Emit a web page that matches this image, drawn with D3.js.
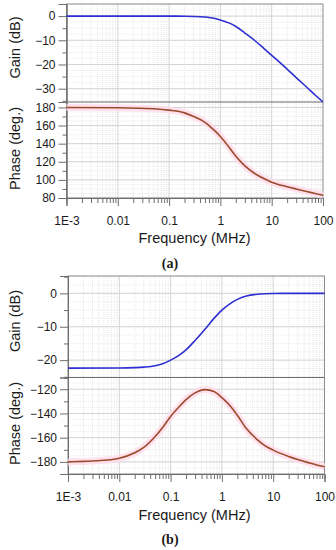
<!DOCTYPE html>
<html><head><meta charset="utf-8">
<script src="https://cdn.jsdelivr.net/npm/d3@7"></script>
<style>body{margin:0;background:#fff}svg{display:block}</style>
</head><body>
<svg id="c" width="336" height="550"></svg>
<script>
// ---------- data ----------
const xTickLabels = ["1E-3","0.01","0.1","1","10","100"];
const xTickValues = [0.001,0.01,0.1,1,10,100];

const freqA  = [0.001,0.01,0.05,0.1,0.2,0.3,0.5,0.7,1,1.5,2,3,5,7,10,20,30,50,70,100];
const gainA  = [0,0,-0.01,-0.02,-0.06,-0.14,-0.4,-0.8,-1.6,-2.9,-4.3,-7.0,-10.6,-13.3,-16.2,-21.9,-25.4,-29.7,-32.6,-35.5];
const phaseA = [180,179.7,178.5,177,174,170,163.5,156.5,148,135.5,126,115.5,106,101.5,97.5,92.5,90,87,85,83];

const freqGB = [0.001,0.01,0.02,0.03,0.05,0.07,0.1,0.15,0.2,0.3,0.5,0.7,1,1.5,2,3,5,7,10,20,100];
const gainB  = [-22.4,-22.35,-22.25,-22.1,-21.7,-21.1,-20.0,-18.4,-16.9,-14.1,-10.2,-7.5,-5.0,-2.9,-1.8,-0.8,-0.25,-0.1,-0.03,0,0];
const freqPB = [0.001,0.002,0.005,0.01,0.02,0.03,0.05,0.07,0.1,0.15,0.2,0.3,0.47,0.7,1,1.5,2,3,5,7,10,20,30,50,70,100];
const phaseB = [-180,-179.6,-178.7,-177,-172.5,-168,-159,-151.5,-142.5,-134,-128.5,-123,-120.3,-121.8,-127,-134.5,-141.5,-152.5,-162,-166.8,-170.3,-175.5,-178,-180.8,-182.5,-184];

const gainTicksA  = [0,-10,-20,-30];
const phaseTicksA = [180,160,140,120,100,80];
const gainTicksB  = [0,-10,-20];
const phaseTicksB = [-120,-140,-160,-180];

const captions = ["(a)","(b)"];
const gainTitle = "Gain (dB)", phaseTitle = "Phase (deg.)", freqTitle = "Frequency (MHz)";

// ---------- drawing ----------
const svg = d3.select("#c");
const SANS = "'Liberation Sans', Arial, sans-serif";
const BLUE = "#2e2ed2", RED = "#9c4a2c";

function drawChart(cfg) {
  const g = svg.append("g");
  const x = d3.scaleLog().domain([0.001,100]).range([cfg.x0, cfg.x1]);
  const yG = d3.scaleLinear().domain(cfg.gDom).range([cfg.yTop, cfg.yMid]);
  const yP = d3.scaleLinear().domain(cfg.pDom).range([cfg.yMid, cfg.yBot]);
  const allX = x.ticks();
  const minorX = allX.filter(v => !xTickValues.some(t => Math.abs(t - v) < 1e-9));

  function grid(y, majors, step) {
    const [a, b] = y.domain();
    const lo = Math.min(a, b), hi = Math.max(a, b);
    const fine = [];
    for (let v = Math.ceil(lo / (step/4)) * (step/4); v <= hi; v += step/4) fine.push(+v.toFixed(4));
    g.append("g").selectAll("line").data(fine).join("line")
      .attr("x1", cfg.x0).attr("x2", cfg.x1).attr("y1", d => y(d)).attr("y2", d => y(d))
      .attr("stroke", "#ebebeb").attr("stroke-width", 1).attr("stroke-dasharray","1,1");
    g.append("g").selectAll("line").data(minorX).join("line")
      .attr("x1", d => x(d)).attr("x2", d => x(d)).attr("y1", y.range()[0]).attr("y2", y.range()[1])
      .attr("stroke", "#e6e6e6").attr("stroke-width", 1).attr("stroke-dasharray","1,1");
    g.append("g").selectAll("line").data(majors).join("line")
      .attr("x1", cfg.x0).attr("x2", cfg.x1).attr("y1", d => y(d)).attr("y2", d => y(d))
      .attr("stroke", "#d4d4d4").attr("stroke-width", 1);
    g.append("g").selectAll("line").data(xTickValues.slice(1,-1)).join("line")
      .attr("x1", d => x(d)).attr("x2", d => x(d)).attr("y1", y.range()[0]).attr("y2", y.range()[1])
      .attr("stroke", "#d4d4d4").attr("stroke-width", 1);
  }
  grid(yG, cfg.gTicks, 10);
  grid(yP, cfg.pTicks, 20);

  // border
  g.append("rect").attr("x", cfg.x0).attr("y", cfg.yTop)
    .attr("width", cfg.x1 - cfg.x0).attr("height", cfg.yBot - cfg.yTop)
    .attr("fill", "none").attr("stroke", "#8a8a8a").attr("stroke-width", 1);
  g.append("line").attr("x1", cfg.x0).attr("x2", cfg.x1).attr("y1", cfg.yMid).attr("y2", cfg.yMid)
    .attr("stroke", "#6e6e6e").attr("stroke-width", 1.2);

  // y axes
  function yAxis(y, majors, step) {
    const [a, b] = y.domain();
    const lo = Math.min(a, b), hi = Math.max(a, b);
    const minors = [];
    for (let v = Math.ceil(lo / (step/2)) * (step/2); v <= hi; v += step/2)
      if (!majors.some(m => Math.abs(m - v) < 1e-6)) minors.push(v);
    const ax = g.append("g").attr("transform", `translate(${cfg.x0},0)`);
    ax.call(d3.axisLeft(y).tickValues(minors).tickSize(4).tickFormat(""));
    const ax2 = g.append("g").attr("transform", `translate(${cfg.x0},0)`);
    ax2.call(d3.axisLeft(y).tickValues(majors).tickSize(8).tickPadding(3).tickFormat(d3.format("d")));
    [ax, ax2].forEach(s => {
      s.select(".domain").attr("stroke", "#6e6e6e");
      s.selectAll(".tick line").attr("stroke", "#6e6e6e");
      s.selectAll("text").attr("font-family", SANS).attr("font-size", 12).attr("fill", "#1a1a1a");
    });
  }
  yAxis(yG, cfg.gTicks, 10);
  yAxis(yP, cfg.pTicks, 20);

  // x axis
  const axm = g.append("g").attr("transform", `translate(0,${cfg.yBot})`)
    .call(d3.axisBottom(x).tickValues(minorX).tickSize(5).tickFormat(""));
  const axM = g.append("g").attr("transform", `translate(0,${cfg.yBot})`)
    .call(d3.axisBottom(x).tickValues(xTickValues).tickSize(8).tickPadding(10)
      .tickFormat((d, i) => xTickLabels[i]));
  [axm, axM].forEach(s => {
    s.select(".domain").attr("stroke", "#6e6e6e");
    s.selectAll(".tick line").attr("stroke", "#6e6e6e");
    s.selectAll("text").attr("font-family", SANS).attr("font-size", 12).attr("fill", "#1a1a1a");
  });

  // curves
  const lineG = d3.line().x(d => x(d[0])).y(d => yG(d[1])).curve(d3.curveMonotoneX);
  const lineP = d3.line().x(d => x(d[0])).y(d => yP(d[1])).curve(d3.curveMonotoneX);
  const gd = cfg.gf.map((f, i) => [f, cfg.gv[i]]);
  const pd = cfg.pf.map((f, i) => [f, cfg.pv[i]]);
  g.append("path").datum(pd).attr("d", lineP).attr("fill", "none")
    .attr("stroke", "#ffdbe9").attr("stroke-width", 7).attr("opacity", 0.8);
  g.append("path").datum(gd).attr("d", lineG).attr("fill", "none")
    .attr("stroke", BLUE).attr("stroke-width", 1.6);
  g.append("path").datum(pd).attr("d", lineP).attr("fill", "none")
    .attr("stroke", RED).attr("stroke-width", 1.6);

  // titles
  g.append("text").attr("transform", `translate(20,${cfg.gTitleY}) rotate(-90)`)
    .attr("text-anchor", "middle").attr("font-family", SANS).attr("font-size", 14.5)
    .attr("fill", "#1a1a1a").text(gainTitle);
  g.append("text").attr("transform", `translate(20,${cfg.pTitleY}) rotate(-90)`)
    .attr("text-anchor", "middle").attr("font-family", SANS).attr("font-size", 14.5)
    .attr("fill", "#1a1a1a").text(phaseTitle);
  g.append("text").attr("x", 194.5).attr("y", cfg.fTitleY).attr("text-anchor", "middle")
    .attr("font-family", SANS).attr("font-size", 14.5).attr("fill", "#1a1a1a").text(freqTitle);
  g.append("text").attr("x", 170).attr("y", cfg.capY).attr("text-anchor", "middle")
    .attr("font-family", "'Liberation Serif', 'Times New Roman', serif").attr("font-size", 14)
    .attr("font-weight", "bold").attr("fill", "#1a1a1a").text(cfg.caption);
}

drawChart({x0:66.5, x1:323, yTop:4, yMid:102, yBot:198,
  gDom:[5,-35.5], pDom:[186,80], gTicks:gainTicksA, pTicks:phaseTicksA,
  gf:freqA, gv:gainA, pf:freqA, pv:phaseA,
  gTitleY:47.5, pTitleY:148.5, fTitleY:243, capY:268, caption:captions[0]});

drawChart({x0:68, x1:324.5, yTop:276, yMid:377.5, yBot:474,
  gDom:[5.2,-25.2], pDom:[-110.3,-190], gTicks:gainTicksB, pTicks:phaseTicksB,
  gf:freqGB, gv:gainB, pf:freqPB, pv:phaseB,
  gTitleY:321, pTitleY:423.5, fTitleY:520, capY:544, caption:captions[1]});
</script>
</body></html>
